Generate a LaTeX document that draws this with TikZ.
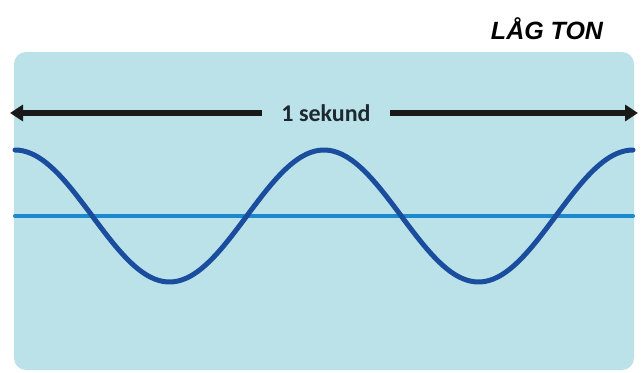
\documentclass[tikz,border=0pt]{standalone}
\usepackage{fontspec}
\setmainfont{Carlito}
\newfontfamily\titlefont{Liberation Sans}
\usetikzlibrary{arrows.meta}
\definecolor{bgblue}{RGB}{187,226,233}
\definecolor{wavedark}{RGB}{26,77,158}
\definecolor{linemid}{RGB}{30,136,206}
\definecolor{arrowblack}{RGB}{25,25,25}
\definecolor{labeldark}{RGB}{30,40,48}
\tikzset{
  panel/.style={fill=bgblue, draw=none, rounded corners=12pt},
  timearrow/.style={draw=arrowblack, line width=5.5pt, -{Triangle[length=13pt,width=16pt]}},
  wave/.style={draw=wavedark, line width=5pt, line cap=round},
  axisline/.style={draw=linemid, line width=4pt, line cap=round},
}
\begin{document}
\begin{tikzpicture}[x=1pt,y=-1pt]
\useasboundingbox (0,0) rectangle (644,372);
\fill[white] (0,0) rectangle (644,372);
\path[panel] (14,52) rectangle (634,370);
\node[font=\titlefont\bfseries\itshape\fontsize{25}{28}\selectfont, text=black, anchor=center] (title) at (547,29) {LÅG TON};
\node[font=\bfseries\fontsize{24}{28}\selectfont, text=labeldark, anchor=center] (lbl) at (326,113) {1 sekund};
\coordinate (Lend) at (262,113);
\coordinate (Rend) at (390,113);
\coordinate (Ltip) at (10,113);
\coordinate (Rtip) at (638,113);
\draw[timearrow] (Lend) -- (Ltip);
\draw[timearrow] (Rend) -- (Rtip);
\coordinate (hl) at (15,216);
\coordinate (hr) at (633,216);
\draw[axisline] (hl) -- (hr);
\draw[wave] plot[domain=15:633, samples=160, smooth] (\x, {216 - 66*cos((\x-15)/309*360)});
\end{tikzpicture}
\end{document}
